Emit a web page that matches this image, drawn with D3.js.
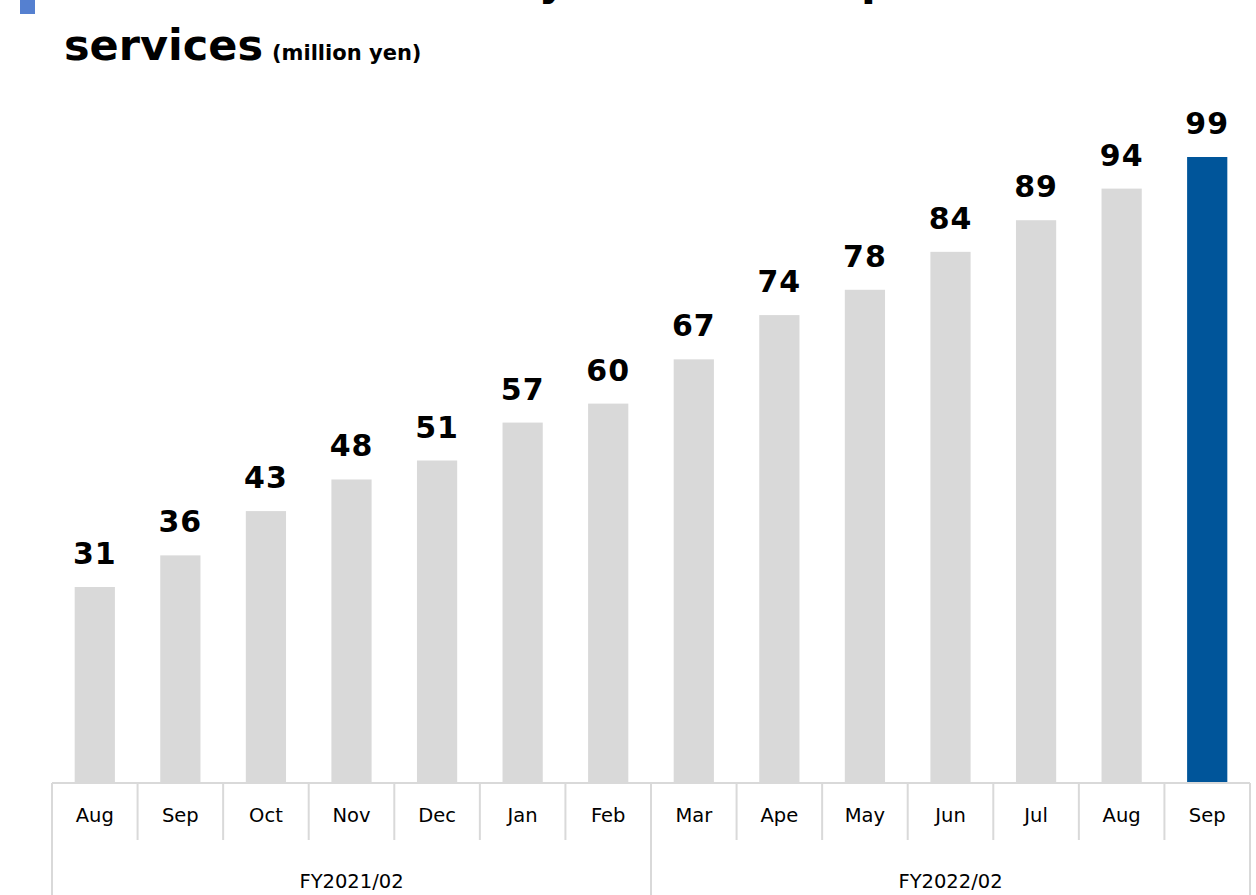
<!DOCTYPE html>
<html>
<head>
<meta charset="utf-8">
<script src="https://cdn.jsdelivr.net/npm/d3@7"></script>
<style>
  html, body { margin: 0; padding: 0; background: #fff; }
  svg { display: block; }
  text { font-family: "DejaVu Sans", Verdana, sans-serif; }
</style>
</head>
<body>
<svg id="chart" width="1256" height="895"></svg>
<script>
// ---- data ----
const months = ["Aug","Sep","Oct","Nov","Dec","Jan","Feb","Mar","Ape","May","Jun","Jul","Aug","Sep"];
const values = [31, 36, 43, 48, 51, 57, 60, 67, 74, 78, 84, 89, 94, 99];
const fiscalYears = ["FY2021/02", "FY2022/02"];
const fiscalYearSpans = [7, 7];
const titleLine1a = "Net sales of monthly";
const titleLine1b = "subscription";
const titleLine2 = "services";
const titleUnit = "(million yen)";

// ---- layout ----
const W = 1256, H = 895;
const left = 52, right = 1250, baseY = 783;
const svg = d3.select("#chart");

const idx = d3.range(months.length);
const x = d3.scaleBand().domain(idx).range([left, right]).padding(0);
const y = d3.scaleLinear().domain([0, 99]).range([baseY, 157]);
const barW = x.bandwidth() * 0.47;
const lineColor = "#d9d9d9";

// title
svg.append("rect").attr("x", 20).attr("y", 0).attr("width", 15).attr("height", 14).attr("fill", "#5580d0");
const t1 = svg.append("text").attr("x", 65).attr("y", -5)
  .attr("font-size", 43).attr("font-weight", "bold").attr("fill", "#000");
t1.append("tspan").text(titleLine1a);
t1.append("tspan").attr("dx", 120).text(titleLine1b);
const t2 = svg.append("text").attr("x", 64).attr("y", 60).attr("fill", "#000").attr("font-weight", "bold");
t2.append("tspan").attr("font-size", 43).text(titleLine2);
t2.append("tspan").attr("font-size", 21).attr("dx", 9).text(titleUnit);

// bars
svg.append("g").selectAll("rect").data(idx).join("rect")
  .attr("x", i => x(i) + (x.bandwidth() - barW) / 2)
  .attr("y", i => y(values[i]))
  .attr("width", barW)
  .attr("height", i => baseY - y(values[i]))
  .attr("fill", i => i === values.length - 1 ? "#00559a" : "#d9d9d9");

// value labels
svg.append("g").selectAll("text").data(idx).join("text")
  .attr("x", i => x(i) + x.bandwidth() / 2)
  .attr("y", i => y(values[i]) - 23)
  .attr("text-anchor", "middle")
  .attr("font-size", 30).attr("font-weight", "bold").attr("fill", "#000")
  .attr("letter-spacing", 1)
  .text(i => values[i]);

// category table
const axisG = svg.append("g").attr("stroke", lineColor).attr("stroke-width", 2);
axisG.append("line").attr("x1", left).attr("x2", right).attr("y1", baseY).attr("y2", baseY);
// month separators
idx.slice(1).forEach(i => {
  axisG.append("line").attr("x1", x(i)).attr("x2", x(i)).attr("y1", baseY).attr("y2", 840);
});
// group borders
let acc = 0;
const groupBounds = [0];
fiscalYearSpans.forEach(s => { acc += s; groupBounds.push(acc); });
groupBounds.forEach(b => {
  const xx = b < months.length ? x(b) : right;
  axisG.append("line").attr("x1", xx).attr("x2", xx).attr("y1", baseY).attr("y2", H);
});

// month labels
svg.append("g").selectAll("text").data(idx).join("text")
  .attr("x", i => x(i) + x.bandwidth() / 2)
  .attr("y", 822)
  .attr("text-anchor", "middle")
  .attr("font-size", 19.5).attr("fill", "#000")
  .text(i => months[i]);

// fiscal year labels
svg.append("g").selectAll("text").data(fiscalYears).join("text")
  .attr("x", (d, k) => {
    const a = x(groupBounds[k]);
    const b = groupBounds[k + 1] < months.length ? x(groupBounds[k + 1]) : right;
    return (a + b) / 2;
  })
  .attr("y", 888)
  .attr("text-anchor", "middle")
  .attr("font-size", 19.5).attr("fill", "#000")
  .text(d => d);
</script>
</body>
</html>
